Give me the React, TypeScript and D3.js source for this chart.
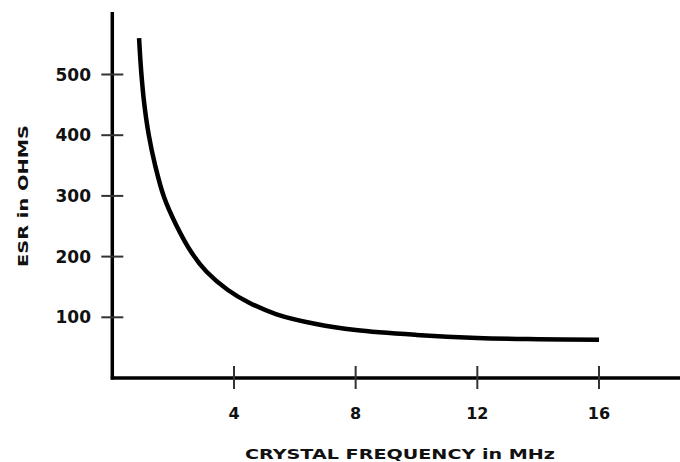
import React from "react";
import * as d3 from "d3";

const freqMHz = [0.88, 0.95, 1.05, 1.2, 1.4, 1.7, 2.1, 2.6, 3.1, 3.8, 4.5, 5.4, 6.7, 8, 10, 12, 14, 16];
const esrOhms = [560, 505, 452, 400, 352, 298, 252, 207, 175, 145, 124, 105, 89, 79, 71, 66, 64, 63];
const xTicks = [4, 8, 12, 16];
const yTicks = [100, 200, 300, 400, 500];
const xTitle = "CRYSTAL FREQUENCY in MHz";
const yTitle = "ESR in OHMS";

const W = 680;
const H = 462;

export default function App() {
  const x = d3.scaleLinear().domain([0, 16]).range([112.3, 599]);
  const y = d3.scaleLinear().domain([0, 500]).range([378, 74.5]);
  const pts: [number, number][] = freqMHz.map((f, i) => [f, esrOhms[i]]);
  const line = d3
    .line<[number, number]>()
    .x((d) => x(d[0]))
    .y((d) => y(d[1]))
    .curve(d3.curveCatmullRom.alpha(0.5));
  const font = "'DejaVu Sans', sans-serif";
  return (
    <svg
      width={W}
      height={H}
      style={{ position: "absolute", left: 0, top: 0, background: "#fff" }}
    >
      <rect x={0} y={0} width={W} height={H} fill="#fff" />
      {/* axes */}
      <line x1={x(0)} y1={12} x2={x(0)} y2={y(0) + 1.5} stroke="#000" strokeWidth={3.5} />
      <line x1={x(0) - 1.5} y1={y(0)} x2={W} y2={y(0)} stroke="#000" strokeWidth={3.5} />
      {/* y ticks */}
      {yTicks.map((t) => (
        <g key={"y" + t}>
          <line x1={x(0) - 11} x2={x(0) + 11} y1={y(t)} y2={y(t)} stroke="#333" strokeWidth={2} />
          <text
            x={91}
            y={y(t)}
            dy="0.36em"
            textAnchor="end"
            fontFamily={font}
            fontWeight="bold"
            fontSize={17}
            fill="#111"
          >
            {t}
          </text>
        </g>
      ))}
      {/* x ticks */}
      {xTicks.map((t) => (
        <g key={"x" + t}>
          <line x1={x(t)} x2={x(t)} y1={y(0) - 12} y2={y(0) + 11} stroke="#333" strokeWidth={2} />
          <text
            x={x(t)}
            y={413}
            dy="0.36em"
            textAnchor="middle"
            fontFamily={font}
            fontWeight="bold"
            fontSize={16}
            fill="#111"
          >
            {t}
          </text>
        </g>
      ))}
      {/* curve */}
      <path d={line(pts) || ""} fill="none" stroke="#000" strokeWidth={4.5} strokeLinecap="butt" />
      {/* titles */}
      <text
        x={400}
        y={459}
        textAnchor="middle"
        fontFamily={font}
        fontWeight="bold"
        fontSize={14}
        textLength={310}
        lengthAdjust="spacingAndGlyphs"
        fill="#111"
      >
        {xTitle}
      </text>
      <text
        transform={`translate(28,196) rotate(-90)`}
        textAnchor="middle"
        fontFamily={font}
        fontWeight="bold"
        fontSize={14}
        textLength={142}
        lengthAdjust="spacingAndGlyphs"
        fill="#111"
      >
        {yTitle}
      </text>
    </svg>
  );
}
